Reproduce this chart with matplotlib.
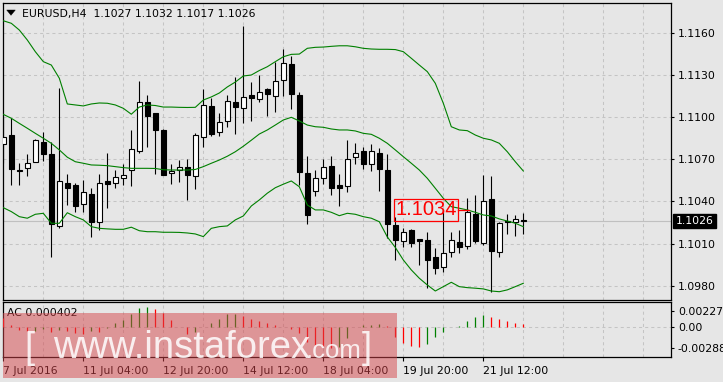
import matplotlib
matplotlib.use("Agg")
import matplotlib.pyplot as plt
from matplotlib.patches import Rectangle, Polygon
from matplotlib import font_manager

# ---------------- data (EURUSD H4) ----------------
opens = [1.10806, 1.10872, 1.10623, 1.10635, 1.10682, 1.10822, 1.10737, 1.10227, 1.10531, 1.10517,
         1.10379, 1.10450, 1.10255, 1.10545, 1.10529, 1.10564, 1.10623, 1.10761, 1.11105, 1.11027,
         1.10908, 1.10600, 1.10623, 1.10642, 1.10583, 1.10860, 1.11081, 1.10891, 1.10974, 1.11105,
         1.11062, 1.11157, 1.11126, 1.11200, 1.11152, 1.11261, 1.11377, 1.11157, 1.10600, 1.10476,
         1.10568, 1.10652, 1.10517, 1.10512, 1.10714, 1.10758, 1.10664, 1.10746, 1.10623, 1.10232,
         1.10120, 1.10196, 1.10130, 1.10125, 1.10002, 1.09931, 1.10038, 1.10109, 1.10083, 1.10308,
         1.10106, 1.10415, 1.10038, 1.10258, 1.10251, 1.10270]
highs = [1.11002, 1.10991, 1.10671, 1.10735, 1.10844, 1.10891, 1.10822, 1.11209, 1.10593, 1.10529,
         1.10552, 1.10493, 1.10593, 1.10746, 1.10623, 1.10664, 1.10908, 1.11256, 1.11157, 1.11030,
         1.10915, 1.10664, 1.10694, 1.10701, 1.10889, 1.11200, 1.11133, 1.11027, 1.11157, 1.11283,
         1.11648, 1.11247, 1.11299, 1.11209, 1.11394, 1.11484, 1.11436, 1.11176, 1.10721, 1.10623,
         1.10701, 1.10723, 1.10593, 1.10837, 1.10813, 1.10789, 1.10806, 1.10778, 1.10735, 1.10291,
         1.10208, 1.10200, 1.10132, 1.10180, 1.10066, 1.10339, 1.10180, 1.10196, 1.10422, 1.10445,
         1.10588, 1.10581, 1.10255, 1.10308, 1.10303, 1.10320]
lows = [1.10671, 1.10517, 1.10517, 1.10581, 1.10680, 1.10687, 1.10006, 1.10208, 1.10374, 1.10327,
        1.10327, 1.10149, 1.10196, 1.10351, 1.10497, 1.10517, 1.10512, 1.10742, 1.10789, 1.10595,
        1.10585, 1.10524, 1.10540, 1.10410, 1.10488, 1.10789, 1.10867, 1.10867, 1.10931, 1.10879,
        1.10960, 1.10972, 1.11109, 1.11010, 1.11038, 1.11152, 1.11057, 1.10517, 1.10239, 1.10440,
        1.10524, 1.10445, 1.10369, 1.10469, 1.10666, 1.10630, 1.10618, 1.10476, 1.10142, 1.09983,
        1.10078, 1.10078, 1.09947, 1.09786, 1.09881, 1.09900, 1.10006, 1.10031, 1.10059, 1.10102,
        1.10090, 1.09757, 1.10002, 1.10167, 1.10154, 1.10170]
closes = [1.10860, 1.10630, 1.10618, 1.10673, 1.10835, 1.10739, 1.10237, 1.10545, 1.10497, 1.10369,
          1.10465, 1.10251, 1.10529, 1.10522, 1.10571, 1.10585, 1.10770, 1.11109, 1.11010, 1.10910,
          1.10588, 1.10616, 1.10647, 1.10588, 1.10872, 1.11086, 1.10879, 1.10963, 1.11114, 1.11074,
          1.11140, 1.11133, 1.11180, 1.11162, 1.11256, 1.11382, 1.11162, 1.10611, 1.10303, 1.10564,
          1.10642, 1.10497, 1.10497, 1.10699, 1.10742, 1.10666, 1.10758, 1.10630, 1.10239, 1.10125,
          1.10180, 1.10106, 1.10120, 1.09983, 1.09924, 1.10031, 1.10123, 1.10073, 1.10322, 1.10120,
          1.10403, 1.10049, 1.10244, 1.10255, 1.10277, 1.10260]

bb_upper = [1.11685, 1.11667, 1.11619, 1.11548, 1.11465, 1.11394, 1.11370, 1.11276, 1.11093, 1.11086,
            1.11079, 1.11093, 1.11100, 1.11098, 1.11086, 1.11062, 1.11020, 1.11071, 1.11086, 1.11082,
            1.11071, 1.11071, 1.11069, 1.11068, 1.11069, 1.11121, 1.11143, 1.11171, 1.11214, 1.11249,
            1.11292, 1.11299, 1.11331, 1.11358, 1.11394, 1.11429, 1.11446, 1.11448, 1.11489, 1.11496,
            1.11498, 1.11503, 1.11507, 1.11507, 1.11500, 1.11489, 1.11484, 1.11482, 1.11482, 1.11480,
            1.11465, 1.11418, 1.11370, 1.11323, 1.11240, 1.11098, 1.10931, 1.10908, 1.10903, 1.10872,
            1.10849, 1.10837, 1.10813, 1.10753, 1.10682, 1.10616]
bb_mid = [1.11019, 1.10991, 1.10955, 1.10920, 1.10884, 1.10849, 1.10813, 1.10766, 1.10714, 1.10682,
          1.10671, 1.10659, 1.10657, 1.10654, 1.10647, 1.10640, 1.10635, 1.10635, 1.10635, 1.10634,
          1.10625, 1.10623, 1.10623, 1.10623, 1.10627, 1.10647, 1.10671, 1.10694, 1.10721, 1.10753,
          1.10792, 1.10835, 1.10879, 1.10908, 1.10943, 1.10979, 1.10998, 1.10972, 1.10943, 1.10931,
          1.10927, 1.10915, 1.10908, 1.10908, 1.10901, 1.10884, 1.10877, 1.10849, 1.10813, 1.10766,
          1.10718, 1.10671, 1.10623, 1.10564, 1.10493, 1.10422, 1.10362, 1.10351, 1.10339, 1.10322,
          1.10303, 1.10296, 1.10275, 1.10260, 1.10244, 1.10220]
bb_lower = [1.10355, 1.10327, 1.10291, 1.10280, 1.10308, 1.10315, 1.10244, 1.10244, 1.10319, 1.10291,
            1.10268, 1.10220, 1.10208, 1.10204, 1.10201, 1.10201, 1.10216, 1.10191, 1.10184, 1.10184,
            1.10180, 1.10180, 1.10179, 1.10175, 1.10168, 1.10149, 1.10208, 1.10220, 1.10225, 1.10268,
            1.10296, 1.10367, 1.10410, 1.10458, 1.10497, 1.10522, 1.10545, 1.10504, 1.10374, 1.10339,
            1.10339, 1.10322, 1.10298, 1.10315, 1.10308, 1.10291, 1.10280, 1.10255, 1.10147, 1.10072,
            1.09983, 1.09912, 1.09853, 1.09805, 1.09762, 1.09793, 1.09824, 1.09793, 1.09786, 1.09782,
            1.09777, 1.09762, 1.09757, 1.09770, 1.09793, 1.09817]

ac_values = [0.00123, 0.00032, -0.00037, -0.00055, -0.00045, -0.00027, -0.00069, -0.00032, -0.00050, -0.00082,
             -0.00091, -0.00050, -0.00060, -0.00010, 0.00064, 0.00096, 0.00178, 0.00260, 0.00274, 0.00247,
             0.00192, 0.00100, 0.00010, -0.00096, -0.00060, 0.00005, 0.00055, 0.00114, 0.00178, 0.00180,
             0.00160, 0.00114, 0.00087, 0.00055, 0.00032, 0.00010, -0.00020, -0.00082, -0.00197, -0.00242,
             -0.00265, -0.00288, -0.00265, -0.00150, 0.00010, 0.00027, 0.00035, 0.00046, 0.00020, -0.00128,
             -0.00210, -0.00252, -0.00265, -0.00228, -0.00128, -0.00060, 0.00010, 0.00020, 0.00087, 0.00141,
             0.00169, 0.00141, 0.00110, 0.00090, 0.00064, 0.000402]
ac_up = [0, 0, 0, 0, 1, 1, 0, 1, 0, 0,
         0, 1, 0, 1, 1, 1, 1, 1, 1, 0,
         0, 0, 0, 0, 1, 1, 1, 1, 1, 1,
         0, 0, 0, 0, 0, 0, 0, 0, 0, 0,
         0, 0, 1, 1, 1, 1, 1, 1, 0, 0,
         0, 0, 0, 1, 1, 1, 1, 1, 1, 1,
         1, 0, 0, 0, 0, 0]

price_ticks = [1.0980, 1.1010, 1.1040, 1.1070, 1.1100, 1.1130, 1.1160]
time_label_idx = [0, 10, 20, 30, 40, 50, 60]
time_labels = ["7 Jul 2016", "11 Jul 04:00", "12 Jul 20:00", "14 Jul 12:00",
               "18 Jul 04:00", "19 Jul 20:00", "21 Jul 12:00"]
ac_ticks = [-0.00288, 0.0, 0.002278]
ac_tick_labels = ["-0.00288", "0.00", "0.002278"]
symbol_title = "EURUSD,H4  1.1027 1.1032 1.1017 1.1026"
ac_title = "AC 0.000402"
bid_price = 1.1026
marked_price = 1.1034

# ---------------- style ----------------
W, H = 723, 382
BG = "#E6E6E6"
GRID = "#C4C4C4"
GREEN = "#008000"
FONT = "DejaVu Sans"
FS = 7.8
plt.rcParams["lines.scale_dashes"] = False
plt.rcParams["font.family"] = [FONT]

# narrow font for the watermark if available
installed = {f.name for f in font_manager.fontManager.ttflist}
if "Liberation Sans Narrow" in installed:
    WM_FAMILY, WM_BIG, WM_COM = "Liberation Sans Narrow", 33.0, 22.0
else:
    WM_FAMILY, WM_BIG, WM_COM = "Liberation Sans", 27.5, 18.5

fig = plt.figure(figsize=(W / 100, H / 100), dpi=100, facecolor=BG)

def fx(x):
    return x / W

def fy(y):
    return 1 - y / H

L, R = 3, 671
ax = fig.add_axes([fx(L), fy(300), fx(R) - fx(L), fy(2.5) - fy(300)], facecolor=BG)
axs = fig.add_axes([fx(L), fy(357.3), fx(R) - fx(L), fy(302.3) - fy(357.3)], facecolor=BG)

n = len(closes)
xs = list(range(n))
xmin = -0.04
xmax = (R - 3.3) / 8.0
for a in (ax, axs):
    a.set_xlim(xmin, xmax)
    for s in a.spines.values():
        s.set_linewidth(0.9)
        s.set_color("black")

ax.set_ylim(1.09698, 1.11815)
axs.set_ylim(-0.00411, 0.003425)

dash = (0, (2.2, 2.2))
grid_x = list(range(5, 84, 5))
for gx in grid_x:
    ax.axvline(gx, color=GRID, lw=0.75, ls=dash, zorder=0)
    axs.axvline(gx, color=GRID, lw=0.75, ls=dash, zorder=0)
for p in price_ticks:
    ax.axhline(p, color=GRID, lw=0.75, ls=dash, zorder=0)
axs.axhline(0, color=GRID, lw=0.75, ls=dash, zorder=0)

ax.axhline(bid_price, color="#C0C0C0", lw=0.8, zorder=0.5)

bw = 0.56
for i in xs:
    o, h, l, c = opens[i], highs[i], lows[i], closes[i]
    ax.vlines(i, l, h, color="black", lw=0.8, zorder=2)
    bottom = min(o, c)
    height = max(abs(c - o), 0.000012)
    face = "white" if c >= o else "black"
    ax.add_patch(Rectangle((i - bw / 2, bottom), bw, height, facecolor=face,
                           edgecolor="black", lw=0.8, zorder=3))

for band in (bb_upper, bb_mid, bb_lower):
    ax.plot(xs, band, color=GREEN, lw=0.8, zorder=4)

lbl_x0 = (394.3 - 3.3) / 8
lbl_x1 = (457.5 - 3.3) / 8
ax.text((lbl_x0 + lbl_x1) / 2, marked_price, "1.1034", color="#FF0000",
        fontsize=14.5, family="Liberation Sans", ha="center", va="center", zorder=6,
        bbox=dict(boxstyle="square,pad=0.08", fc="none", ec="#FF0000", lw=0.9))
ax.plot([lbl_x1, lbl_x1 + 1.45], [marked_price, marked_price], color="#FF0000", lw=0.9, zorder=6)

ax.yaxis.tick_right()
ax.set_yticks(price_ticks)
ax.set_yticklabels([f"{p:.4f}" for p in price_ticks])
ax.tick_params(axis="y", direction="out", length=2.5, width=0.8, pad=2.5, labelsize=FS, colors="black")
ax.set_xticks([])

ax.annotate(f"{bid_price:.4f}", xy=(1.0, bid_price), xycoords=("axes fraction", "data"),
            xytext=(3.5, 0), textcoords="offset points", ha="left", va="center",
            fontsize=FS, color="white", zorder=10, annotation_clip=False,
            bbox=dict(boxstyle="square,pad=0.22", fc="black", ec="black"))

for i in xs:
    col = GREEN if ac_up[i] else "#FF0000"
    axs.vlines(i, 0, ac_values[i], color=col, lw=0.9, zorder=3)

axs.yaxis.tick_right()
axs.set_yticks(ac_ticks)
axs.set_yticklabels(ac_tick_labels)
axs.tick_params(axis="y", direction="out", length=2.5, width=0.8, pad=2.5, labelsize=FS, colors="black")
axs.set_xticks(time_label_idx)
axs.set_xticklabels(time_labels)
axs.tick_params(axis="x", direction="out", length=3, width=0.8, pad=3.5, labelsize=FS, colors="black")
for t in axs.get_xticklabels():
    t.set_ha("left")

fig.text(fx(21.7), fy(16.7), symbol_title, fontsize=FS, color="black", ha="left", va="baseline")
fig.patches.append(Polygon([[fx(6.7), fy(10)], [fx(15.3), fy(10)], [fx(11), fy(15.3)]],
                           closed=True, transform=fig.transFigure, facecolor="black",
                           edgecolor="black", lw=0.3))
fig.text(fx(7.3), fy(313.3), ac_title, fontsize=FS, color="black", ha="left", va="center", zorder=5)

# watermark
fig.patches.append(Rectangle((fx(3), fy(378)), fx(397) - fx(3), fy(312.7) - fy(378),
                             transform=fig.transFigure, facecolor=(0.84, 0.27, 0.29),
                             alpha=0.5, edgecolor="none", zorder=20))
wm_kw = dict(color="white", alpha=0.85, family=WM_FAMILY, ha="left", va="baseline", zorder=21)
fig.text(fx(24), fy(358), "[", fontsize=26, **wm_kw)
fig.text(fx(53), fy(358.3), "www.instaforex", fontsize=WM_BIG, **wm_kw)
fig.text(fx(306), fy(358.3), ".com", fontsize=WM_COM, **wm_kw)
fig.text(fx(362), fy(358), "]", fontsize=26, **wm_kw)

fig.savefig("out.png", dpi=100, facecolor=BG)
